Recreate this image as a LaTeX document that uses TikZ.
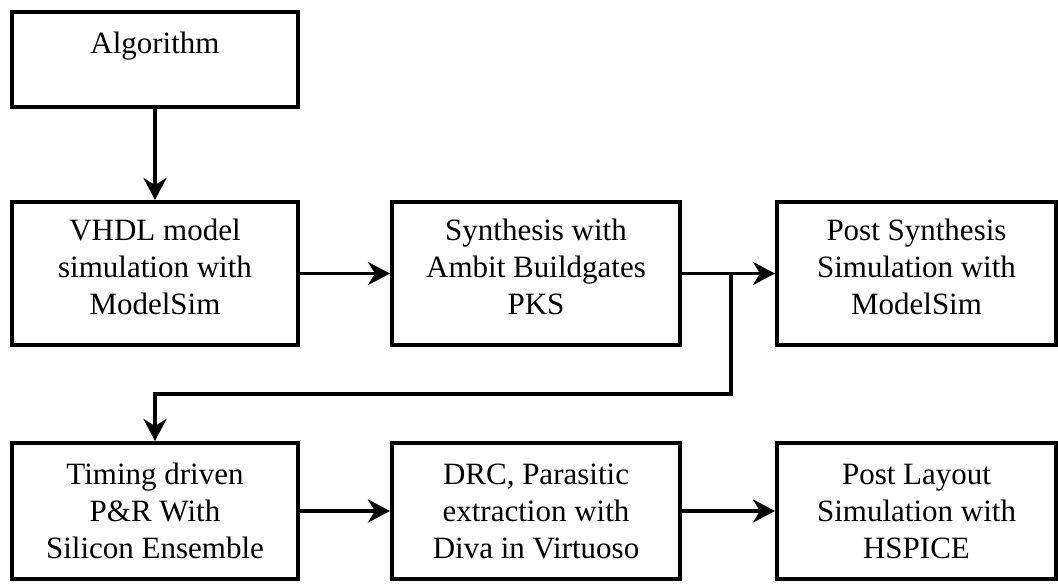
\documentclass[tikz,border=0pt]{standalone}
\usepackage{fontspec}
\setmainfont{Liberation Serif}
\usetikzlibrary{arrows.meta}

\begin{document}
\begin{tikzpicture}[x=0.5pt, y=-0.5pt,
  blk/.style={draw, line width=2pt, inner sep=0pt, align=center, font=\fontsize{15.5}{18.5}\selectfont},
  rowtwo/.style={blk, minimum height=71.5pt},
  rowthree/.style={blk, minimum height=68pt},
  flow/.style={line width=1.8pt, -{Stealth[length=11pt, width=11.5pt, inset=3.5pt]}}]
\useasboundingbox (0,0) rectangle (1058,583);
\node [blk, minimum width=143pt, minimum height=47.5pt] (algo) at (155,59.5) {Algorithm\\[-1.6pt]\mbox{}};
\node [rowtwo, minimum width=143pt] (vhdl) at (155,273.5) {VHDL model\\simulation with\\ModelSim\\[-11.5pt]\mbox{}};
\node [rowtwo, minimum width=144pt] (synth) at (536,273.5) {Synthesis with\\Ambit Buildgates\\PKS\\[-11.5pt]\mbox{}};
\node [rowtwo, minimum width=139.5pt] (postsyn) at (916.5,273.5) {Post Synthesis\\Simulation with\\ModelSim\\[-11.5pt]\mbox{}};
\node [rowthree, minimum width=143pt] (timing) at (155,511) {Timing driven\\P\&R With\\Silicon Ensemble};
\node [rowthree, minimum width=144pt] (drc) at (536,511) {DRC, Parasitic\\extraction with\\Diva in Virtuoso};
\node [rowthree, minimum width=139.5pt] (postlay) at (916.5,511) {Post Layout\\Simulation with\\HSPICE};
\coordinate (split) at (731,273.5);
\coordinate (back) at (155,394);
\draw [flow] (algo) -- (vhdl);
\draw [flow] (vhdl) -- (synth);
\draw [flow] (synth) -- (postsyn);
\draw [flow] (split) |- (back) -- (timing);
\draw [flow] (timing) -- (drc);
\draw [flow] (drc) -- (postlay);
\end{tikzpicture}
\end{document}
